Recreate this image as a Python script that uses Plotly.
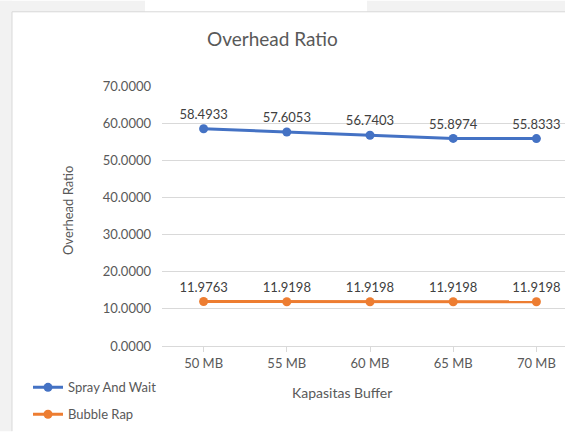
import plotly.graph_objects as go

categories = ["50 MB", "55 MB", "60 MB", "65 MB", "70 MB"]
spray_and_wait = [58.4933, 57.6053, 56.7403, 55.8974, 55.8333]
bubble_rap = [11.9763, 11.9198, 11.9198, 11.9198, 11.9198]
y_ticks = [0, 10, 20, 30, 40, 50, 60, 70]

FONT = "Lato, Carlito, Calibri, sans-serif"
GRAY = "#595959"
W, H = 565, 432
L, R, T, B = 162, 0, 85.5, 85.5
PW = W - L - R
PH = H - T - B

def px(x):
    return (x - L) / PW

def py(y):
    return (H - B - y) / PH

x_idx = list(range(len(categories)))

fig = go.Figure()
fig.add_trace(go.Scatter(
    x=x_idx, y=spray_and_wait, name="Spray And Wait", mode="lines+markers+text",
    line=dict(color="#4472C4", width=3), marker=dict(size=9, color="#4472C4"),
    text=[f"{v:.4f}" for v in spray_and_wait], textposition="top center",
    textfont=dict(family=FONT, size=13, color="#404040"), cliponaxis=False,
    legend="legend",
))
fig.add_trace(go.Scatter(
    x=x_idx, y=bubble_rap, name="Bubble Rap", mode="lines+markers+text",
    line=dict(color="#ED7D31", width=3), marker=dict(size=9, color="#ED7D31"),
    text=[f"{v:.4f}" for v in bubble_rap], textposition="top center",
    textfont=dict(family=FONT, size=13, color="#404040"), cliponaxis=False,
    legend="legend2",
))

shapes = [
    dict(type="rect", xref="paper", yref="paper", x0=px(0), x1=px(12), y0=py(H), y1=py(0),
         fillcolor="#f2f2f2", line=dict(width=0), layer="below"),
    dict(type="rect", xref="paper", yref="paper", x0=px(0), x1=px(145), y0=py(11), y1=py(0),
         fillcolor="#f2f2f2", line=dict(width=0), layer="below"),
    dict(type="rect", xref="paper", yref="paper", x0=px(367), x1=px(W), y0=py(11), y1=py(0),
         fillcolor="#f2f2f2", line=dict(width=0), layer="below"),
    dict(type="line", xref="paper", yref="paper", x0=px(12), x1=px(12), y0=py(H), y1=py(11),
         line=dict(color="#d9d9d9", width=1), layer="below"),
    dict(type="line", xref="paper", yref="paper", x0=px(12), x1=px(W), y0=py(11), y1=py(11),
         line=dict(color="#d9d9d9", width=1), layer="below"),
]

annotations = [
    dict(text="Overhead Ratio", xref="paper", yref="paper", x=px(272), y=py(38),
         showarrow=False, font=dict(family=FONT, size=19, color=GRAY),
         xanchor="center", yanchor="middle"),
    dict(text="Overhead Ratio", xref="paper", yref="paper", x=px(68), y=py(210),
         showarrow=False, textangle=-90, font=dict(family=FONT, size=13, color=GRAY),
         xanchor="center", yanchor="middle"),
    dict(text="Kapasitas Buffer", xref="paper", yref="paper", x=px(342), y=py(393),
         showarrow=False, font=dict(family=FONT, size=14, color=GRAY),
         xanchor="center", yanchor="middle"),
]

fig.update_layout(
    width=W, height=H,
    margin=dict(l=L, r=R, t=T, b=B),
    paper_bgcolor="white", plot_bgcolor="white",
    shapes=shapes, annotations=annotations,
    showlegend=True,
    legend=dict(x=px(28), y=py(373), xanchor="left", yanchor="top",
                font=dict(family=FONT, size=13, color=GRAY), bgcolor="rgba(0,0,0,0)"),
    legend2=dict(x=px(28), y=py(400), xanchor="left", yanchor="top",
                 font=dict(family=FONT, size=13, color=GRAY), bgcolor="rgba(0,0,0,0)"),
    xaxis=dict(
        tickmode="array", tickvals=x_idx, ticktext=categories,
        range=[-0.5, -0.5 + PW / 83.2], tickson="boundaries", ticks="outside",
        ticklen=5, tickcolor="#d9d9d9", showline=True, linecolor="#d9d9d9", linewidth=1,
        showgrid=False, zeroline=False,
        tickfont=dict(family=FONT, size=13, color=GRAY),
    ),
    yaxis=dict(
        range=[0, 70], tickvals=y_ticks, tickformat=".4f",
        showgrid=True, gridcolor="#d9d9d9", gridwidth=1, zeroline=False,
        showline=False, ticks="", ticklabelstandoff=10,
        tickfont=dict(family=FONT, size=13, color=GRAY),
    ),
)

fig.write_html(
    "out.html",
    config={"displayModeBar": False},
    post_script="document.body.style.margin='0';document.body.style.overflow='hidden';",
)
